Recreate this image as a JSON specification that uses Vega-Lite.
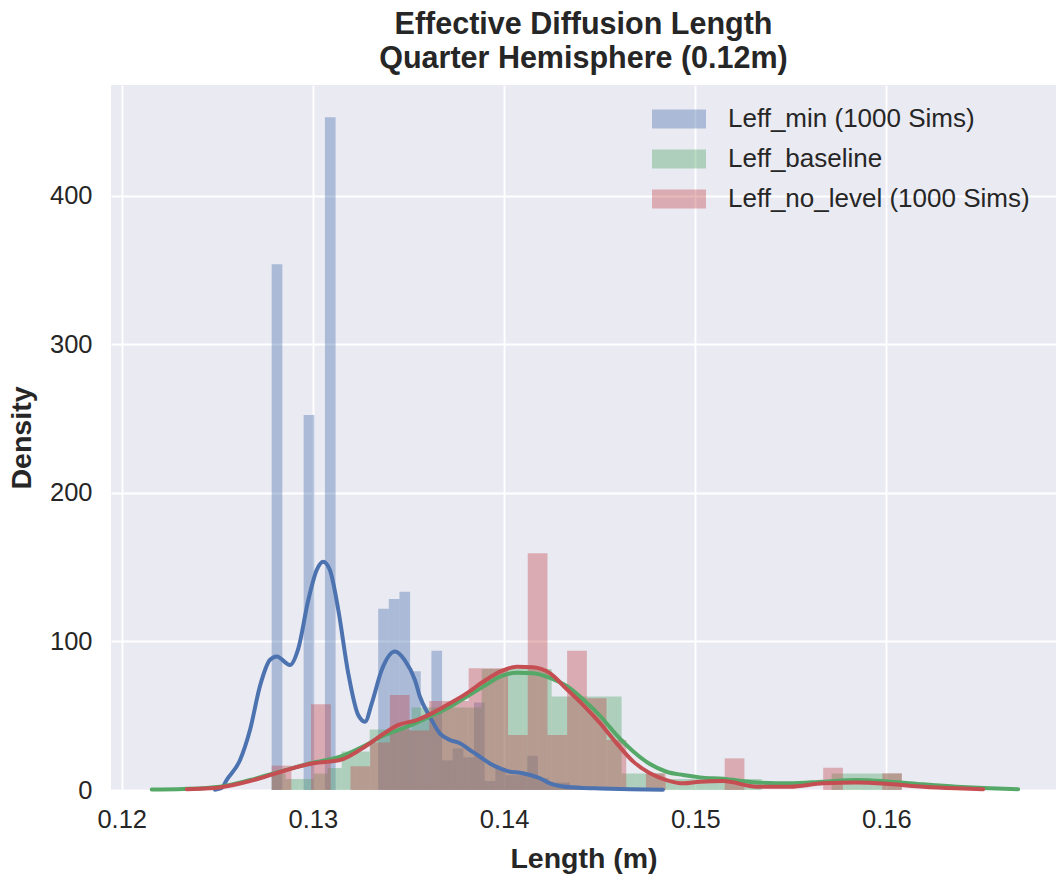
{
  "$schema": "https://vega.github.io/schema/vega-lite/v6.json",
  "width": 945,
  "height": 705,
  "autosize": {"type": "none"},
  "padding": {"left": 111, "top": 85, "right": 0, "bottom": 90},
  "background": "white",
  "config": {
    "view": {"stroke": null, "fill": "#EAEAF2"},
    "font": "Liberation Sans",
    "axis": {"domain": false, "ticks": false, "gridColor": "white", "gridWidth": 1.8, "labelColor": "#262626", "titleColor": "#262626", "labelFontSize": 25.5, "titleFontSize": 28.5, "titleFontWeight": "bold", "labelPadding": 17},
    "legend": {"labelFontSize": 26, "labelColor": "#262626", "labelLimit": 0}
  },
  "title": {"text": ["Effective Diffusion Length", "Quarter Hemisphere (0.12m)"], "fontSize": 30.5, "fontWeight": "bold", "color": "#262626", "lineHeight": 34, "anchor": "middle", "offset": 11},
  "datasets": {
    "hist": [
      {"s": "Leff_min (1000 Sims)", "a": 0.127845, "b": 0.128402, "d": 354},
      {"s": "Leff_min (1000 Sims)", "a": 0.129516, "b": 0.130073, "d": 252.5},
      {"s": "Leff_min (1000 Sims)", "a": 0.13063, "b": 0.131187, "d": 453},
      {"s": "Leff_min (1000 Sims)", "a": 0.133415, "b": 0.133972, "d": 122},
      {"s": "Leff_min (1000 Sims)", "a": 0.133972, "b": 0.134529, "d": 128.6},
      {"s": "Leff_min (1000 Sims)", "a": 0.134529, "b": 0.135086, "d": 133.5},
      {"s": "Leff_min (1000 Sims)", "a": 0.135086, "b": 0.135643, "d": 80},
      {"s": "Leff_min (1000 Sims)", "a": 0.135643, "b": 0.1362, "d": 50},
      {"s": "Leff_min (1000 Sims)", "a": 0.1362, "b": 0.136757, "d": 93.8},
      {"s": "Leff_min (1000 Sims)", "a": 0.136757, "b": 0.137314, "d": 20},
      {"s": "Leff_min (1000 Sims)", "a": 0.137314, "b": 0.137871, "d": 28},
      {"s": "Leff_min (1000 Sims)", "a": 0.137871, "b": 0.138428, "d": 22},
      {"s": "Leff_min (1000 Sims)", "a": 0.138428, "b": 0.138985, "d": 59},
      {"s": "Leff_min (1000 Sims)", "a": 0.138985, "b": 0.139542, "d": 6},
      {"s": "Leff_min (1000 Sims)", "a": 0.139542, "b": 0.140099, "d": 15},
      {"s": "Leff_min (1000 Sims)", "a": 0.140099, "b": 0.140656, "d": 10},
      {"s": "Leff_min (1000 Sims)", "a": 0.140656, "b": 0.141213, "d": 10},
      {"s": "Leff_min (1000 Sims)", "a": 0.141213, "b": 0.14177, "d": 23},
      {"s": "Leff_min (1000 Sims)", "a": 0.14177, "b": 0.142327, "d": 8},
      {"s": "Leff_min (1000 Sims)", "a": 0.142327, "b": 0.142884, "d": 5},
      {"s": "Leff_min (1000 Sims)", "a": 0.142884, "b": 0.143441, "d": 5},
      {"s": "Leff_min (1000 Sims)", "a": 0.143441, "b": 0.143998, "d": 3},
      {"s": "Leff_min (1000 Sims)", "a": 0.143998, "b": 0.144555, "d": 2},
      {"s": "Leff_min (1000 Sims)", "a": 0.144555, "b": 0.145112, "d": 2},

      {"s": "Leff_baseline", "a": 0.127845, "b": 0.128577, "d": 11},
      {"s": "Leff_baseline", "a": 0.128577, "b": 0.129309, "d": 7.4},
      {"s": "Leff_baseline", "a": 0.129309, "b": 0.130042, "d": 7.4},
      {"s": "Leff_baseline", "a": 0.130042, "b": 0.130774, "d": 11},
      {"s": "Leff_baseline", "a": 0.130774, "b": 0.131506, "d": 14.8},
      {"s": "Leff_baseline", "a": 0.131506, "b": 0.132238, "d": 25.9},
      {"s": "Leff_baseline", "a": 0.132238, "b": 0.132971, "d": 25.9},
      {"s": "Leff_baseline", "a": 0.132971, "b": 0.133703, "d": 40.7},
      {"s": "Leff_baseline", "a": 0.133703, "b": 0.134435, "d": 40.7},
      {"s": "Leff_baseline", "a": 0.134435, "b": 0.135167, "d": 40.7},
      {"s": "Leff_baseline", "a": 0.135167, "b": 0.135899, "d": 55.5},
      {"s": "Leff_baseline", "a": 0.135899, "b": 0.136632, "d": 55.5},
      {"s": "Leff_baseline", "a": 0.136632, "b": 0.137364, "d": 55.5},
      {"s": "Leff_baseline", "a": 0.137364, "b": 0.138096, "d": 55.5},
      {"s": "Leff_baseline", "a": 0.138096, "b": 0.138828, "d": 55.5},
      {"s": "Leff_baseline", "a": 0.138828, "b": 0.13956, "d": 81.4},
      {"s": "Leff_baseline", "a": 0.13956, "b": 0.140293, "d": 81.4},
      {"s": "Leff_baseline", "a": 0.140293, "b": 0.141025, "d": 81.4},
      {"s": "Leff_baseline", "a": 0.141025, "b": 0.141757, "d": 81.4},
      {"s": "Leff_baseline", "a": 0.141757, "b": 0.142489, "d": 81.4},
      {"s": "Leff_baseline", "a": 0.142489, "b": 0.143221, "d": 62.9},
      {"s": "Leff_baseline", "a": 0.143221, "b": 0.143954, "d": 62.9},
      {"s": "Leff_baseline", "a": 0.143954, "b": 0.144686, "d": 62.9},
      {"s": "Leff_baseline", "a": 0.144686, "b": 0.145418, "d": 62.9},
      {"s": "Leff_baseline", "a": 0.145418, "b": 0.14615, "d": 62.9},
      {"s": "Leff_baseline", "a": 0.14615, "b": 0.146883, "d": 11.1},
      {"s": "Leff_baseline", "a": 0.146883, "b": 0.147615, "d": 11.1},
      {"s": "Leff_baseline", "a": 0.147615, "b": 0.148347, "d": 11.1},
      {"s": "Leff_baseline", "a": 0.148347, "b": 0.149079, "d": 7.4},
      {"s": "Leff_baseline", "a": 0.149079, "b": 0.149811, "d": 7.4},
      {"s": "Leff_baseline", "a": 0.149811, "b": 0.150544, "d": 7.4},
      {"s": "Leff_baseline", "a": 0.150544, "b": 0.151276, "d": 7.4},
      {"s": "Leff_baseline", "a": 0.151276, "b": 0.152008, "d": 7.4},
      {"s": "Leff_baseline", "a": 0.152008, "b": 0.15274, "d": 7.4},
      {"s": "Leff_baseline", "a": 0.15274, "b": 0.153472, "d": 7.4},
      {"s": "Leff_baseline", "a": 0.157133, "b": 0.157866, "d": 11.1},
      {"s": "Leff_baseline", "a": 0.157866, "b": 0.158598, "d": 11.1},
      {"s": "Leff_baseline", "a": 0.158598, "b": 0.15933, "d": 11.1},
      {"s": "Leff_baseline", "a": 0.15933, "b": 0.160062, "d": 11.1},
      {"s": "Leff_baseline", "a": 0.160062, "b": 0.160794, "d": 11.1},

      {"s": "Leff_no_level (1000 Sims)", "a": 0.127845, "b": 0.128875, "d": 16.4},
      {"s": "Leff_no_level (1000 Sims)", "a": 0.129906, "b": 0.130936, "d": 57.7},
      {"s": "Leff_no_level (1000 Sims)", "a": 0.131966, "b": 0.132997, "d": 16},
      {"s": "Leff_no_level (1000 Sims)", "a": 0.132997, "b": 0.134027, "d": 32},
      {"s": "Leff_no_level (1000 Sims)", "a": 0.134027, "b": 0.135057, "d": 64},
      {"s": "Leff_no_level (1000 Sims)", "a": 0.135057, "b": 0.136087, "d": 40},
      {"s": "Leff_no_level (1000 Sims)", "a": 0.136087, "b": 0.137118, "d": 60},
      {"s": "Leff_no_level (1000 Sims)", "a": 0.137118, "b": 0.138148, "d": 60},
      {"s": "Leff_no_level (1000 Sims)", "a": 0.138148, "b": 0.139178, "d": 82},
      {"s": "Leff_no_level (1000 Sims)", "a": 0.139178, "b": 0.140209, "d": 82},
      {"s": "Leff_no_level (1000 Sims)", "a": 0.140209, "b": 0.141239, "d": 37},
      {"s": "Leff_no_level (1000 Sims)", "a": 0.141239, "b": 0.142269, "d": 159.4},
      {"s": "Leff_no_level (1000 Sims)", "a": 0.142269, "b": 0.143299, "d": 37},
      {"s": "Leff_no_level (1000 Sims)", "a": 0.143299, "b": 0.14433, "d": 93.8},
      {"s": "Leff_no_level (1000 Sims)", "a": 0.14433, "b": 0.14536, "d": 61.7},
      {"s": "Leff_no_level (1000 Sims)", "a": 0.14536, "b": 0.14639, "d": 33.7},
      {"s": "Leff_no_level (1000 Sims)", "a": 0.147421, "b": 0.148451, "d": 11.2},
      {"s": "Leff_no_level (1000 Sims)", "a": 0.151542, "b": 0.152572, "d": 21.3},
      {"s": "Leff_no_level (1000 Sims)", "a": 0.156693, "b": 0.157724, "d": 15},
      {"s": "Leff_no_level (1000 Sims)", "a": 0.159784, "b": 0.160815, "d": 11.2}
    ],
    "kde": [
      {"s": "Leff_min (1000 Sims)", "x": 0.12488, "d": 0.2},
      {"s": "Leff_min (1000 Sims)", "x": 0.12523, "d": 1.3},
      {"s": "Leff_min (1000 Sims)", "x": 0.12549, "d": 6.7},
      {"s": "Leff_min (1000 Sims)", "x": 0.12619, "d": 20.2},
      {"s": "Leff_min (1000 Sims)", "x": 0.12671, "d": 40.4},
      {"s": "Leff_min (1000 Sims)", "x": 0.12723, "d": 69.9},
      {"s": "Leff_min (1000 Sims)", "x": 0.12776, "d": 87.7},
      {"s": "Leff_min (1000 Sims)", "x": 0.12811, "d": 89.9},
      {"s": "Leff_min (1000 Sims)", "x": 0.1288, "d": 84.2},
      {"s": "Leff_min (1000 Sims)", "x": 0.12924, "d": 95.4},
      {"s": "Leff_min (1000 Sims)", "x": 0.12976, "d": 127.9},
      {"s": "Leff_min (1000 Sims)", "x": 0.1302, "d": 148.1},
      {"s": "Leff_min (1000 Sims)", "x": 0.13054, "d": 153.7},
      {"s": "Leff_min (1000 Sims)", "x": 0.13089, "d": 148.1},
      {"s": "Leff_min (1000 Sims)", "x": 0.13133, "d": 121.2},
      {"s": "Leff_min (1000 Sims)", "x": 0.13185, "d": 78.6},
      {"s": "Leff_min (1000 Sims)", "x": 0.13237, "d": 50.5},
      {"s": "Leff_min (1000 Sims)", "x": 0.13273, "d": 46},
      {"s": "Leff_min (1000 Sims)", "x": 0.13308, "d": 58.4},
      {"s": "Leff_min (1000 Sims)", "x": 0.1336, "d": 80.8},
      {"s": "Leff_min (1000 Sims)", "x": 0.13429, "d": 93.2},
      {"s": "Leff_min (1000 Sims)", "x": 0.13482, "d": 87.1},
      {"s": "Leff_min (1000 Sims)", "x": 0.13534, "d": 74},
      {"s": "Leff_min (1000 Sims)", "x": 0.1356, "d": 62.8},
      {"s": "Leff_min (1000 Sims)", "x": 0.13612, "d": 49.3},
      {"s": "Leff_min (1000 Sims)", "x": 0.13665, "d": 38},
      {"s": "Leff_min (1000 Sims)", "x": 0.13717, "d": 33.7},
      {"s": "Leff_min (1000 Sims)", "x": 0.13769, "d": 31.5},
      {"s": "Leff_min (1000 Sims)", "x": 0.13822, "d": 26.9},
      {"s": "Leff_min (1000 Sims)", "x": 0.13874, "d": 22.4},
      {"s": "Leff_min (1000 Sims)", "x": 0.13926, "d": 17.9},
      {"s": "Leff_min (1000 Sims)", "x": 0.13979, "d": 14.5},
      {"s": "Leff_min (1000 Sims)", "x": 0.14031, "d": 12.3},
      {"s": "Leff_min (1000 Sims)", "x": 0.14083, "d": 11.6},
      {"s": "Leff_min (1000 Sims)", "x": 0.14136, "d": 10.1},
      {"s": "Leff_min (1000 Sims)", "x": 0.14188, "d": 7.9},
      {"s": "Leff_min (1000 Sims)", "x": 0.1424, "d": 4.5},
      {"s": "Leff_min (1000 Sims)", "x": 0.14292, "d": 2.7},
      {"s": "Leff_min (1000 Sims)", "x": 0.14397, "d": 1.5},
      {"s": "Leff_min (1000 Sims)", "x": 0.14502, "d": 1.0},
      {"s": "Leff_min (1000 Sims)", "x": 0.14659, "d": 0.5},
      {"s": "Leff_min (1000 Sims)", "x": 0.14831, "d": 0.2},

      {"s": "Leff_baseline", "x": 0.12157, "d": 0.3},
      {"s": "Leff_baseline", "x": 0.12322, "d": 0.7},
      {"s": "Leff_baseline", "x": 0.12514, "d": 2.2},
      {"s": "Leff_baseline", "x": 0.12671, "d": 6.7},
      {"s": "Leff_baseline", "x": 0.12828, "d": 12.3},
      {"s": "Leff_baseline", "x": 0.12985, "d": 18},
      {"s": "Leff_baseline", "x": 0.13142, "d": 22.4},
      {"s": "Leff_baseline", "x": 0.13273, "d": 30},
      {"s": "Leff_baseline", "x": 0.1336, "d": 36},
      {"s": "Leff_baseline", "x": 0.13447, "d": 40.4},
      {"s": "Leff_baseline", "x": 0.13534, "d": 44.9},
      {"s": "Leff_baseline", "x": 0.1363, "d": 50.5},
      {"s": "Leff_baseline", "x": 0.13717, "d": 56.1},
      {"s": "Leff_baseline", "x": 0.13804, "d": 62.8},
      {"s": "Leff_baseline", "x": 0.13891, "d": 69.6},
      {"s": "Leff_baseline", "x": 0.13979, "d": 76.3},
      {"s": "Leff_baseline", "x": 0.14066, "d": 79},
      {"s": "Leff_baseline", "x": 0.14153, "d": 78.6},
      {"s": "Leff_baseline", "x": 0.1424, "d": 75.5},
      {"s": "Leff_baseline", "x": 0.14327, "d": 70},
      {"s": "Leff_baseline", "x": 0.14414, "d": 61},
      {"s": "Leff_baseline", "x": 0.14502, "d": 50},
      {"s": "Leff_baseline", "x": 0.14589, "d": 37},
      {"s": "Leff_baseline", "x": 0.14676, "d": 26},
      {"s": "Leff_baseline", "x": 0.14763, "d": 17.5},
      {"s": "Leff_baseline", "x": 0.1485, "d": 12.3},
      {"s": "Leff_baseline", "x": 0.14937, "d": 10.1},
      {"s": "Leff_baseline", "x": 0.15025, "d": 8.5},
      {"s": "Leff_baseline", "x": 0.15146, "d": 7.5},
      {"s": "Leff_baseline", "x": 0.15321, "d": 5},
      {"s": "Leff_baseline", "x": 0.15495, "d": 4.5},
      {"s": "Leff_baseline", "x": 0.15669, "d": 5.6},
      {"s": "Leff_baseline", "x": 0.15844, "d": 6.7},
      {"s": "Leff_baseline", "x": 0.16018, "d": 5.6},
      {"s": "Leff_baseline", "x": 0.16192, "d": 3.8},
      {"s": "Leff_baseline", "x": 0.16367, "d": 2.2},
      {"s": "Leff_baseline", "x": 0.16541, "d": 1.1},
      {"s": "Leff_baseline", "x": 0.16689, "d": 0.5},

      {"s": "Leff_no_level (1000 Sims)", "x": 0.1234, "d": 0.5},
      {"s": "Leff_no_level (1000 Sims)", "x": 0.12462, "d": 1.1},
      {"s": "Leff_no_level (1000 Sims)", "x": 0.12584, "d": 3.4},
      {"s": "Leff_no_level (1000 Sims)", "x": 0.12723, "d": 7.9},
      {"s": "Leff_no_level (1000 Sims)", "x": 0.12863, "d": 13.5},
      {"s": "Leff_no_level (1000 Sims)", "x": 0.13002, "d": 18},
      {"s": "Leff_no_level (1000 Sims)", "x": 0.13142, "d": 20.2},
      {"s": "Leff_no_level (1000 Sims)", "x": 0.13281, "d": 30},
      {"s": "Leff_no_level (1000 Sims)", "x": 0.1336, "d": 37},
      {"s": "Leff_no_level (1000 Sims)", "x": 0.13447, "d": 43.8},
      {"s": "Leff_no_level (1000 Sims)", "x": 0.13543, "d": 47.1},
      {"s": "Leff_no_level (1000 Sims)", "x": 0.1363, "d": 52.1},
      {"s": "Leff_no_level (1000 Sims)", "x": 0.13717, "d": 58.4},
      {"s": "Leff_no_level (1000 Sims)", "x": 0.13804, "d": 65.1},
      {"s": "Leff_no_level (1000 Sims)", "x": 0.13891, "d": 72.9},
      {"s": "Leff_no_level (1000 Sims)", "x": 0.13979, "d": 79.7},
      {"s": "Leff_no_level (1000 Sims)", "x": 0.14066, "d": 83},
      {"s": "Leff_no_level (1000 Sims)", "x": 0.14153, "d": 82.6},
      {"s": "Leff_no_level (1000 Sims)", "x": 0.1424, "d": 78.6},
      {"s": "Leff_no_level (1000 Sims)", "x": 0.14327, "d": 68},
      {"s": "Leff_no_level (1000 Sims)", "x": 0.14414, "d": 57.2},
      {"s": "Leff_no_level (1000 Sims)", "x": 0.14502, "d": 45},
      {"s": "Leff_no_level (1000 Sims)", "x": 0.14589, "d": 31.4},
      {"s": "Leff_no_level (1000 Sims)", "x": 0.14676, "d": 19.1},
      {"s": "Leff_no_level (1000 Sims)", "x": 0.14763, "d": 11.2},
      {"s": "Leff_no_level (1000 Sims)", "x": 0.1485, "d": 6.7},
      {"s": "Leff_no_level (1000 Sims)", "x": 0.14937, "d": 4.5},
      {"s": "Leff_no_level (1000 Sims)", "x": 0.15025, "d": 5.6},
      {"s": "Leff_no_level (1000 Sims)", "x": 0.15146, "d": 6},
      {"s": "Leff_no_level (1000 Sims)", "x": 0.15321, "d": 2.2},
      {"s": "Leff_no_level (1000 Sims)", "x": 0.15495, "d": 2.2},
      {"s": "Leff_no_level (1000 Sims)", "x": 0.15669, "d": 4.5},
      {"s": "Leff_no_level (1000 Sims)", "x": 0.15844, "d": 5},
      {"s": "Leff_no_level (1000 Sims)", "x": 0.16018, "d": 4},
      {"s": "Leff_no_level (1000 Sims)", "x": 0.16192, "d": 2.2},
      {"s": "Leff_no_level (1000 Sims)", "x": 0.16367, "d": 1.1},
      {"s": "Leff_no_level (1000 Sims)", "x": 0.16506, "d": 0.5}
    ]
  },
  "encoding": {
    "x": {"type": "quantitative", "scale": {"domain": [0.11944, 0.16887], "nice": false, "zero": false},
          "axis": {"values": [0.12, 0.13, 0.14, 0.15, 0.16], "format": ".2f", "title": "Length (m)", "titlePadding": 12}},
    "y": {"type": "quantitative", "scale": {"domain": [0, 474.7], "nice": false},
          "axis": {"values": [0, 100, 200, 300, 400], "title": "Density", "titlePadding": 13, "labelPadding": 19}}
  },
  "layer": [
    {
      "data": {"name": "hist"},
      "transform": [{"filter": "datum.s === 'Leff_min (1000 Sims)'"}],
      "mark": {"type": "rect", "fillOpacity": 0.4},
      "encoding": {
        "x": {"field": "a"}, "x2": {"field": "b"}, "y": {"field": "d"}, "y2": {"datum": 0},
        "fill": {"field": "s", "type": "nominal",
                 "scale": {"domain": ["Leff_min (1000 Sims)", "Leff_baseline", "Leff_no_level (1000 Sims)"], "range": ["#4C72B0", "#55A868", "#C44E52"]},
                 "legend": {"title": null, "orient": "none", "legendX": 541, "legendY": 7, "symbolType": "M-1,-0.35L1,-0.35L1,0.35L-1,0.35Z", "symbolSize": 2916, "symbolOpacity": 0.4, "symbolStrokeWidth": 0, "labelOffset": 22, "rowPadding": -12}}
      }
    },
    {
      "data": {"name": "hist"},
      "transform": [{"filter": "datum.s === 'Leff_baseline'"}],
      "mark": {"type": "rect", "fillOpacity": 0.4},
      "encoding": {
        "x": {"field": "a"}, "x2": {"field": "b"}, "y": {"field": "d"}, "y2": {"datum": 0},
        "fill": {"field": "s", "type": "nominal"}
      }
    },
    {
      "data": {"name": "hist"},
      "transform": [{"filter": "datum.s === 'Leff_no_level (1000 Sims)'"}],
      "mark": {"type": "rect", "fillOpacity": 0.4},
      "encoding": {
        "x": {"field": "a"}, "x2": {"field": "b"}, "y": {"field": "d"}, "y2": {"datum": 0},
        "fill": {"field": "s", "type": "nominal"}
      }
    },
    {
      "data": {"name": "kde"},
      "transform": [{"filter": "datum.s === 'Leff_min (1000 Sims)'"}],
      "mark": {"type": "line", "strokeWidth": 4, "strokeCap": "round", "strokeJoin": "round", "interpolate": "monotone"},
      "encoding": {"x": {"field": "x"}, "y": {"field": "d"}, "color": {"value": "#4C72B0"}}
    },
    {
      "data": {"name": "kde"},
      "transform": [{"filter": "datum.s === 'Leff_baseline'"}],
      "mark": {"type": "line", "strokeWidth": 4, "strokeCap": "round", "strokeJoin": "round", "interpolate": "monotone"},
      "encoding": {"x": {"field": "x"}, "y": {"field": "d"}, "color": {"value": "#55A868"}}
    },
    {
      "data": {"name": "kde"},
      "transform": [{"filter": "datum.s === 'Leff_no_level (1000 Sims)'"}],
      "mark": {"type": "line", "strokeWidth": 4, "strokeCap": "round", "strokeJoin": "round", "interpolate": "monotone"},
      "encoding": {"x": {"field": "x"}, "y": {"field": "d"}, "color": {"value": "#C44E52"}}
    }
  ]
}
